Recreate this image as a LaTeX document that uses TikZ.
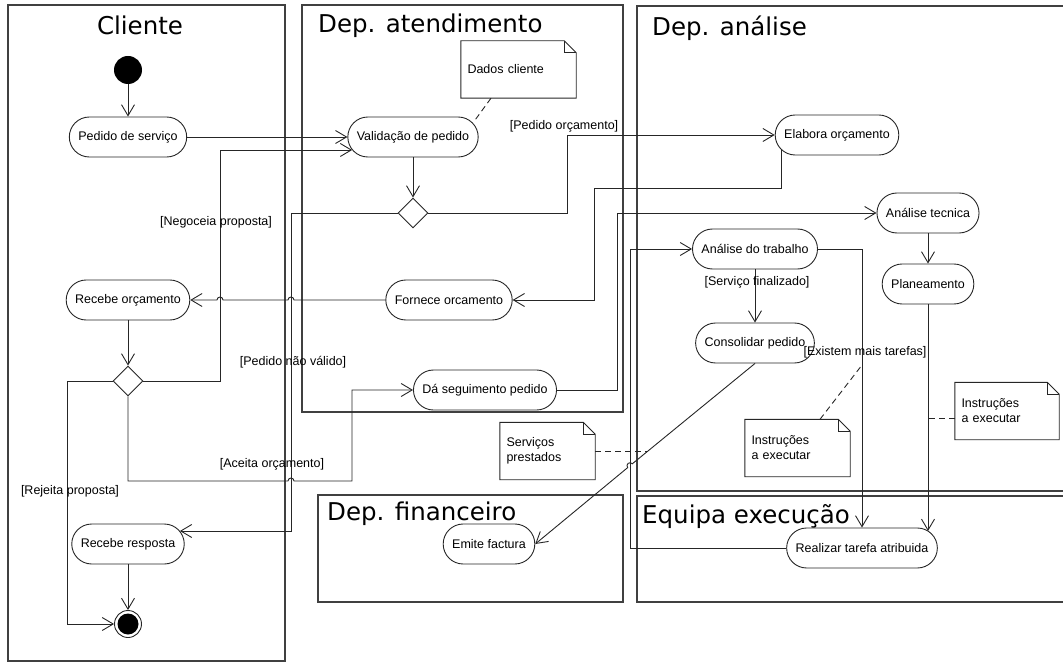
\documentclass[tikz,border=0pt]{standalone}
\usepackage{fontspec}
\setmainfont{Liberation Sans}
\newfontfamily\lanefont{DejaVu Sans}
\usetikzlibrary{arrows.meta,shapes.geometric,calc}

% dog-eared outline round a note node
\newcommand{\notefold}[1]{%
  \draw[notebox] (#1.north west) -- ([xshift=-12pt]#1.north east)
    -- ([yshift=-12pt]#1.north east) -- (#1.south east) -- (#1.south west) -- cycle;
  \draw[notebox] ([xshift=-12pt]#1.north east) |- ([yshift=-12pt]#1.north east);}

\begin{document}
\begin{tikzpicture}[x=1pt,y=-1pt,
    lane/.style={draw=black!75,line width=1.1pt},
    lanetitle/.style={font=\lanefont\fontsize{24.5}{29}\selectfont,inner sep=0pt},
    activity/.style={rectangle,rounded corners=20pt,draw=black!85,line width=0.9pt,
      minimum height=40pt,inner xsep=9pt,font=\fontsize{12.5}{15}\selectfont},
    decision/.style={diamond,draw=black!85,line width=0.9pt,
      minimum width=30pt,minimum height=30pt,inner sep=0pt},
    startdot/.style={circle,fill=black,minimum size=28pt,inner sep=0pt},
    enddot/.style={circle,draw=black!85,line width=0.9pt,minimum size=27pt,inner sep=0pt,
      path picture={\fill[black] (path picture bounding box.center) circle[radius=10.5pt];}},
    note/.style={text width=#1,align=left,minimum height=57pt,inner xsep=6.5pt,
      font=\fontsize{12.5}{15}\selectfont},
    notebox/.style={draw=black!85,line width=0.9pt},
    guard/.style={font=\fontsize{12.5}{15}\selectfont,inner sep=1pt},
    flow/.style={draw=black!85,line width=0.9pt,-{Straight Barb[length=11pt,width=13pt]}},
    notelink/.style={draw=black!85,line width=0.9pt,dash pattern=on 6pt off 4pt}]

  \useasboundingbox (0,0) rectangle (1063,663);

  % swimlanes
  \draw[lane] (8,5) rectangle (285,661);
  \draw[lane] (302,5) rectangle (623,412);
  \draw[lane] (1063,6) -- (637,6) -- (637,491) -- (1063,491);
  \draw[lane] (318,495) rectangle (623,602);
  \draw[lane] (1063,496) -- (637,496) -- (637,602) -- (1063,602);

  \node[lanetitle,anchor=base]      (tcli)   at (140,35)  {Cliente};
  \node[lanetitle,anchor=base west] (tatend) at (318,33)  {Dep. atendimento};
  \node[lanetitle,anchor=base west] (tanal)  at (652,36)  {Dep. análise};
  \node[lanetitle,anchor=base west] (tfin)   at (327,520) {Dep. financeiro};
  \node[lanetitle,anchor=base west] (texec)  at (642,523) {Equipa execução};

  % activities
  \node[startdot] (start)   at (128,70)  {};
  \node[activity] (pedido)  at (128,137) {Pedido de serviço};
  \node[activity] (valid)   at (413,137) {Validação de pedido};
  \node[decision] (dec1)    at (413,213) {};
  \node[activity] (elab)    at (837,135) {Elabora orçamento};
  \node[activity] (forn)    at (449,300) {Fornece orcamento};
  \node[activity] (recorc)  at (128,300) {Recebe orçamento};
  \node[activity] (antec)   at (928,213) {Análise tecnica};
  \node[activity] (antrab)  at (755,249) {Análise do trabalho};
  \node[activity] (plan)    at (928,284) {Planeamento};
  \node[activity] (consol)  at (755,343) {Consolidar pedido};
  \node[decision] (dec2)    at (128,381) {};
  \node[activity] (dasegue) at (485,390) {Dá seguimento pedido};
  \node[activity] (recresp) at (128,544) {Recebe resposta};
  \node[enddot]   (stop)    at (128,624) {};
  \node[activity] (emite)   at (489,544) {Emite factura};
  \node[activity] (realiz)  at (862,548) {Realizar tarefa atribuida};

  % notes
  \node[note=102pt] (dados)    at (518.5,69.5) {Dados cliente};
  \node[note=82pt]  (servnote) at (547.5,451)  {Serviços\\prestados};
  \node[note=92pt]  (instr1)   at (797.5,448)  {Instruções\\a executar};
  \node[note=91pt]  (instr2)   at (1007,411)   {Instruções\\a executar};
  \notefold{dados}
  \notefold{servnote}
  \notefold{instr1}
  \notefold{instr2}

  % flows
  \draw[flow] (start) -- (pedido);
  \draw[flow] (pedido) -- (valid);
  \draw[flow] (dec2.east) -| (220,150) -- ([shift={(4.8,13)}]valid.west);
  \draw[flow] (valid) -- (dec1);
  \draw[flow] (dec1.east) -| (567,135) -- (elab.west);
  \draw[flow] (dec1.west) -| (291,531) -- ([shift={(-4.8,-13)}]recresp.east);
  \draw[flow] ([shift={(7,15)}]elab.west) |- (594,188) |- (forn.east);
  \draw[flow] (forn.west) -- (294,300) arc[start angle=0,end angle=-180,radius=3]
    -- (223,300) arc[start angle=0,end angle=-180,radius=3] -- (recorc.east);
  \draw[flow] (recorc) -- (dec2);
  \draw[flow] (dec2.west) -| (67,624) -- (stop);
  \draw[flow] (dec2.south) |- (288,481) arc[start angle=180,end angle=360,radius=3]
    -- (352,481) |- (dasegue.west);
  \draw[flow] (recresp) -- (stop);
  \draw[flow] (dasegue.east) -| (617,213) -- (antec.west);
  \draw[flow] (realiz.west) -| (630,249) -- (antrab.west);
  \draw[flow] (antrab) -- (consol);
  \draw[flow] (antrab.east) -| (realiz.north);
  \draw[flow] (antec) -- (plan);
  \draw[flow] (plan.south) -- ([yshift=17pt]plan.south |- realiz.east);
  \draw[flow] (consol.south) -- (632.3,463.8) arc[start angle=-39.4,end angle=-219.4,radius=3]
    -- (emite.east);

  % note links
  \coordinate (srvpt)  at (648,451);
  \coordinate (exlink) at (862,365);
  \coordinate (pllink) at (928,418);
  \draw[notelink] ([xshift=-27.5pt]dados.south) -- ([shift={(-5,-15)}]valid.east);
  \draw[notelink] (servnote.east) -- (srvpt);
  \draw[notelink] ([xshift=22.5pt]instr1.north) -- (exlink);
  \draw[notelink] ([yshift=-7pt]instr2.west) -- (pllink);

  % guards
  \node[guard] (gneg)  at (216,222) {[Negoceia proposta]};
  \node[guard] (gorc)  at (564,126) {[Pedido orçamento]};
  \node[guard] (ginv)  at (293,362) {[Pedido não válido]};
  \node[guard] (gacc)  at (272,464) {[Aceita orçamento]};
  \node[guard] (grej)  at (70,491)  {[Rejeita proposta]};
  \node[guard] (gfin)  at (757,282) {[Serviço finalizado]};
  \node[guard] (gmais) at (865,352) {[Existem mais tarefas]};
\end{tikzpicture}
\end{document}
